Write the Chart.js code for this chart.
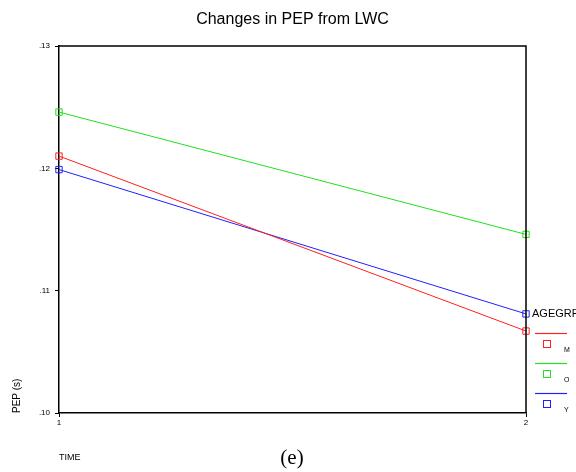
<!DOCTYPE html>
<html>
<head>
<title>Changes in PEP from LWC</title>
<script src="https://cdn.jsdelivr.net/npm/chart.js@4.4.1/dist/chart.umd.min.js"></script>
<style>
  html, body { margin: 0; padding: 0; background: #fff; }
  #wrap { width: 576px; height: 472px; position: relative; }
</style>
</head>
<body>
<div id="wrap"><canvas id="pepChart"></canvas></div>
<script>
// group means of PEP at the two measurement times
const times = [1, 2];
const groupM = [0.1210, 0.1067];
const groupO = [0.1246, 0.1146];
const groupY = [0.1199, 0.1081];
const groupNames = ["M", "O", "Y"];
const yTicks = [0.10, 0.11, 0.12, 0.13];

const colors = ["#ff2020", "#20e020", "#2020ff"];
const series = [groupM, groupO, groupY];

const datasets = series.map((vals, i) => ({
  label: groupNames[i],
  data: vals.map((v, j) => ({ x: times[j], y: v })),
  borderColor: colors[i],
  borderWidth: 1,
  pointStyle: "rect",
  pointRadius: 4.5,
  pointBorderWidth: 1,
  pointBackgroundColor: "rgba(0,0,0,0)",
  pointBorderColor: colors[i],
  clip: false
}));

const sans = "Arial, 'Liberation Sans', sans-serif";
const tickFont = { family: sans, size: 8 };

// title over the plot, frame, group legend on the right, figure tag
const extras = {
  id: "extras",
  afterDraw(chart) {
    const ctx = chart.ctx;
    const a = chart.chartArea;
    ctx.save();
    ctx.fillStyle = "#000";
    ctx.textAlign = "center";
    ctx.textBaseline = "middle";
    ctx.font = "16px " + sans;
    ctx.fillText("Changes in PEP from LWC", (a.left + a.right) / 2, 20);

    ctx.strokeStyle = "#000";
    ctx.lineWidth = 1.5;
    ctx.beginPath();
    ctx.moveTo(a.left, a.top);
    ctx.lineTo(a.right, a.top);
    ctx.lineTo(a.right, a.bottom);
    ctx.stroke();

    ctx.textAlign = "left";
    ctx.font = "11px " + sans;
    ctx.fillText("AGEGRP", 532, 314);

    ctx.font = "7px " + sans;
    groupNames.forEach((name, i) => {
      const y0 = 333 + i * 30;
      ctx.strokeStyle = colors[i];
      ctx.lineWidth = 1.2;
      ctx.beginPath();
      ctx.moveTo(535, y0 + 0.5);
      ctx.lineTo(567, y0 + 0.5);
      ctx.stroke();
      ctx.lineWidth = 1;
      ctx.strokeRect(543.5, y0 + 7.5, 7, 7);
      ctx.fillStyle = "#000";
      ctx.fillText(name, 564, y0 + 17);
    });

    ctx.font = "21px 'Liberation Serif', 'Times New Roman', serif";
    ctx.textAlign = "center";
    ctx.fillText("(e)", 292, 458);
    ctx.restore();
  }
};

new Chart(document.getElementById("pepChart"), {
  type: "line",
  data: { datasets: datasets },
  plugins: [extras],
  options: {
    responsive: true,
    maintainAspectRatio: false,
    animation: false,
    layout: { padding: { top: 46, right: 50, bottom: 0, left: 0 } },
    plugins: {
      legend: { display: false },
      tooltip: { enabled: false },
      title: { display: false }
    },
    scales: {
      x: {
        type: "linear",
        min: 1,
        max: 2,
        afterBuildTicks: s => { s.ticks = times.map(v => ({ value: v })); },
        afterFit: s => { s.height = 59; },
        ticks: { color: "#000", font: tickFont, padding: 1, maxRotation: 0,
          callback: v => String(v) },
        grid: { drawOnChartArea: false, drawTicks: true, tickLength: 4, color: "#000" },
        border: { display: true, color: "#000", width: 1.5 },
        title: { display: true, text: "TIME", align: "start", color: "#000",
          font: { family: sans, size: 9 },
          padding: { top: 0, bottom: 9 } }
      },
      y: {
        min: 0.10,
        max: 0.13,
        afterBuildTicks: s => { s.ticks = yTicks.map(v => ({ value: v })); },
        afterFit: s => { s.width = 59; },
        ticks: { color: "#000", font: tickFont, padding: 5,
          callback: v => v.toFixed(2).replace(/^0/, "") },
        grid: { drawOnChartArea: false, drawTicks: true, tickLength: 4, color: "#000" },
        border: { display: true, color: "#000", width: 1.5 },
        title: { display: true, text: "PEP (s)", align: "start", color: "#000",
          font: { family: sans, size: 10 },
          padding: { top: 11, bottom: 0 } }
      }
    }
  }
});
</script>
</body>
</html>
